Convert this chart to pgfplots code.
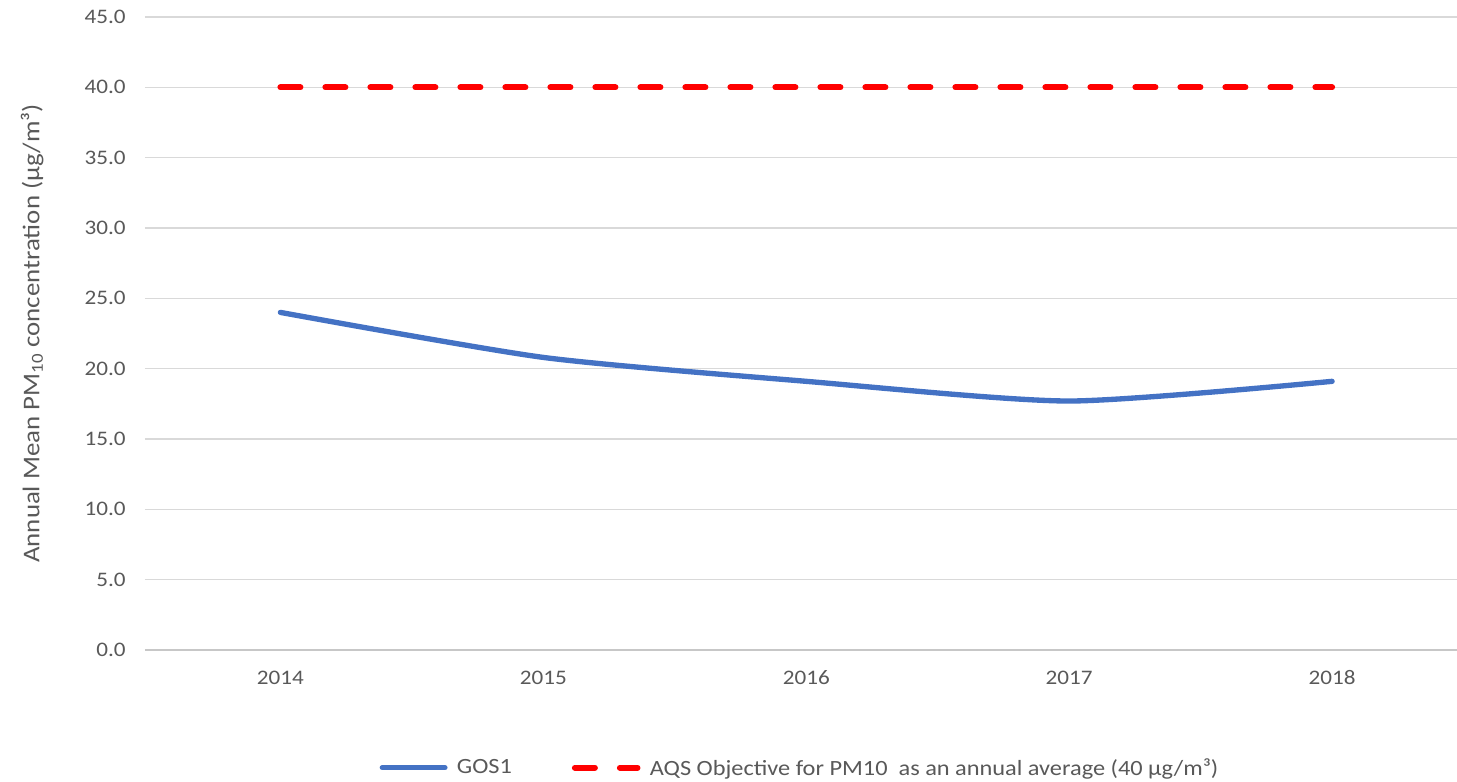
\documentclass[border=0pt]{standalone}
\usepackage{pgfplots}
\pgfplotsset{compat=1.18}
\usepackage{fontspec}
\setmainfont{Carlito}[FakeStretch=1.12]
\definecolor{gos}{HTML}{4472C4}
\definecolor{gridc}{HTML}{D9D9D9}
\definecolor{txt}{HTML}{595959}
\begin{document}
\begin{tikzpicture}
\useasboundingbox (-108.75pt,-99pt) rectangle (984pt,487.5pt);
\begin{axis}[
  at={(0,0)}, anchor=south west,
  scale only axis,
  width=984pt, height=474.75pt,
  xmin=-0.515, xmax=4.475,
  ymin=0, ymax=45,
  xtick={0,1,2,3,4},
  xticklabels={2014,2015,2016,2017,2018},
  ytick={0,5,...,45},
  yticklabel={\pgfmathprintnumber[fixed,fixed zerofill,precision=1]{\tick}},
  /pgf/number format/assume math mode=true,
  tick style={draw=none},
  ymajorgrids,
  grid style={gridc, line width=1.1pt},
  axis line style={draw=none},
  ticklabel style={font=\fontsize{15.5}{17}\selectfont, text=txt},
  yticklabel style={xshift=-11pt},
  xticklabel style={yshift=-12pt},
  ylabel={Annual Mean PM\textsubscript{10} concentration (µg/m³)},
  ylabel style={font=\fontsize{18}{20}\selectfont, text=txt},
  ylabel shift=24pt,
  legend style={draw=none, at={(0.502,-0.186)}, anchor=center, legend columns=2, font=\fontsize{16.3}{18}\selectfont, text=txt, nodes={inner xsep=7pt}, /tikz/every even column/.append style={column sep=38pt}},
  legend image code/.code={\draw[#1] (0cm,0cm) -- (1.65cm,0cm);},
]
\draw[gridc!80!gray, line width=1.2pt] (rel axis cs:0,0) -- (rel axis cs:1,0);
\addplot[gos, line width=4pt, line cap=round, smooth, tension=0.4] coordinates {
(0,24.0) (1,20.8) (2,19.1) (3,17.7) (4,19.1)};
\addlegendentry{GOS1}
\addplot[red, line width=4.5pt, line cap=round, dash pattern=on 15pt off 18.75pt] coordinates {
(0,40) (1,40) (2,40) (3,40) (4,40)};
\addlegendentry{AQS Objective for PM10\ \ as an annual average (40 µg/m³)}
\end{axis}
\end{tikzpicture}
\end{document}
